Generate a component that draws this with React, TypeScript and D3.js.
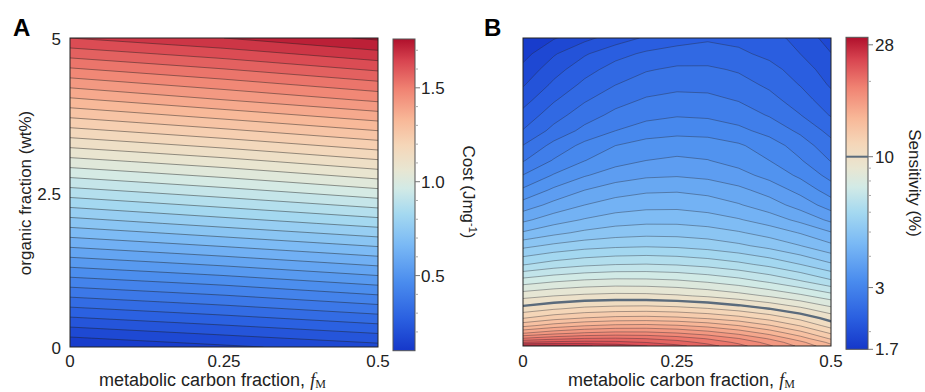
import React from "react";
import * as d3 from "d3";

// ---------------- Panel A data: cost (J mg^-1) ----------------
const costFM = [0, 0.25, 0.5]; // metabolic carbon fraction
const costOrg = [0, 1, 2, 3, 4, 5]; // organic fraction (wt%)
const costGrid = [
  [0.1, 0.14, 0.18],
  [0.41, 0.45, 0.5],
  [0.72, 0.77, 0.82],
  [1.03, 1.08, 1.14],
  [1.34, 1.4, 1.46],
  [1.65, 1.7, 1.76],
];
const costLevels = [
  0.15, 0.2, 0.25, 0.3, 0.35, 0.4, 0.45, 0.5, 0.55, 0.6, 0.65, 0.7, 0.75, 0.8, 0.85, 0.9, 0.95, 1.0,
  1.05, 1.1, 1.15, 1.2, 1.25, 1.3, 1.35, 1.4, 1.45, 1.5, 1.55, 1.6, 1.65, 1.7, 1.75,
];
const costRange = [0.1, 1.76];
const costTicks = [0.5, 1.0, 1.5];
const costMinorTicks = [0.2, 0.3, 0.4, 0.6, 0.7, 0.8, 0.9, 1.1, 1.2, 1.3, 1.4, 1.6, 1.7];
const axisXTicks = [0, 0.25, 0.5];
const axisXLabels = ["0", "0.25", "0.5"];
const orgTicks = [0, 2.5, 5];
const orgLabels = ["0", "2.5", "5"];

// ---------------- Panel B data: log10 sensitivity (%) ----------------
const sensFM = [0, 0.05, 0.1, 0.15, 0.2, 0.25, 0.3, 0.35, 0.4, 0.45, 0.5];
const sensCost = [
  0.1, 0.12, 0.14, 0.17, 0.21, 0.25, 0.3, 0.37, 0.45, 0.54, 0.64, 0.71, 0.78, 0.86, 0.94, 1.02, 1.1,
  1.18, 1.26, 1.345, 1.43, 1.51, 1.59, 1.675, 1.76,
];
const sensLog10Grid = [
  [1.44, 1.434, 1.424, 1.408, 1.386, 1.36, 1.328, 1.292, 1.25, 1.202, 1.15],
  [1.35, 1.36, 1.364, 1.36, 1.348, 1.33, 1.304, 1.272, 1.232, 1.184, 1.13],
  [1.285, 1.305, 1.317, 1.32, 1.314, 1.3, 1.277, 1.246, 1.206, 1.157, 1.1],
  [1.207, 1.232, 1.248, 1.256, 1.255, 1.245, 1.226, 1.199, 1.163, 1.118, 1.065],
  [1.129, 1.155, 1.173, 1.183, 1.185, 1.178, 1.163, 1.14, 1.108, 1.068, 1.02],
  [1.069, 1.092, 1.107, 1.116, 1.118, 1.113, 1.101, 1.083, 1.057, 1.025, 0.986],
  [1.014, 1.032, 1.045, 1.051, 1.053, 1.048, 1.038, 1.022, 1.001, 0.974, 0.941],
  [0.953, 0.965, 0.973, 0.977, 0.976, 0.97, 0.96, 0.945, 0.926, 0.903, 0.875],
  [0.876, 0.891, 0.901, 0.906, 0.905, 0.9, 0.889, 0.874, 0.853, 0.827, 0.796],
  [0.787, 0.805, 0.817, 0.824, 0.826, 0.822, 0.813, 0.799, 0.78, 0.755, 0.725],
  [0.71, 0.728, 0.741, 0.748, 0.751, 0.748, 0.74, 0.727, 0.709, 0.686, 0.658],
  [0.654, 0.676, 0.693, 0.704, 0.709, 0.708, 0.702, 0.689, 0.671, 0.648, 0.618],
  [0.607, 0.634, 0.653, 0.667, 0.673, 0.673, 0.666, 0.653, 0.633, 0.606, 0.572],
  [0.56, 0.591, 0.615, 0.631, 0.639, 0.64, 0.633, 0.618, 0.596, 0.566, 0.528],
  [0.516, 0.552, 0.58, 0.599, 0.609, 0.611, 0.604, 0.589, 0.566, 0.534, 0.493],
  [0.476, 0.513, 0.542, 0.562, 0.574, 0.577, 0.571, 0.557, 0.534, 0.503, 0.463],
  [0.437, 0.478, 0.509, 0.532, 0.545, 0.55, 0.546, 0.532, 0.51, 0.478, 0.438],
  [0.406, 0.451, 0.485, 0.51, 0.526, 0.532, 0.528, 0.515, 0.492, 0.459, 0.417],
  [0.372, 0.416, 0.45, 0.475, 0.491, 0.498, 0.496, 0.484, 0.463, 0.433, 0.394],
  [0.346, 0.39, 0.424, 0.449, 0.465, 0.472, 0.469, 0.458, 0.437, 0.406, 0.367],
  [0.32, 0.365, 0.4, 0.426, 0.443, 0.45, 0.448, 0.437, 0.416, 0.386, 0.347],
  [0.296, 0.342, 0.378, 0.404, 0.422, 0.43, 0.429, 0.418, 0.398, 0.368, 0.33],
  [0.275, 0.321, 0.357, 0.384, 0.402, 0.411, 0.411, 0.401, 0.382, 0.354, 0.316],
  [0.252, 0.296, 0.331, 0.358, 0.376, 0.385, 0.386, 0.377, 0.361, 0.335, 0.301],
  [0.23, 0.262, 0.29, 0.317, 0.34, 0.355, 0.365, 0.36, 0.35, 0.322, 0.285],
];
const sensLog10Levels = [
  0.23, 0.265, 0.3, 0.335, 0.37, 0.405, 0.44, 0.475, 0.51, 0.545, 0.58, 0.615, 0.65, 0.685, 0.72,
  0.755, 0.79, 0.825, 0.86, 0.895, 0.93, 0.965, 1.0, 1.035, 1.07, 1.105, 1.14, 1.175, 1.21, 1.245,
  1.28, 1.315, 1.35, 1.385, 1.42, 1.455,
];
const sensHighlight = [1.0]; // 10 %
const sensRange = [1.7, 30];
const sensTicks = [1.7, 3, 10, 28];
const sensTickLabels = ["1.7", "3", "10", "28"];
const sensMinorTicks = [2, 4, 5, 6, 7, 8, 9, 20];

// ---------------- colour map ----------------
const colorStops = [0, 0.1, 0.22, 0.34, 0.44, 0.52, 0.58, 0.66, 0.74, 0.84, 0.93, 1];
const colorHex = [
  "#1537c9", "#2a5fe0", "#4a8cee", "#7ab9f5", "#a5d9f0", "#d2eae6",
  "#e8e6d2", "#f5d6b8", "#f8b898", "#f08272", "#d84450", "#b0102c",
];

const FONT = "'Liberation Sans', Arial, Helvetica, sans-serif";
const SERIF = "'Liberation Serif', 'Times New Roman', serif";

function contourPaths(
  grid: number[][],
  xs: number[],
  ys: number[],
  levels: number[],
  px: (v: number) => number,
  py: (v: number) => number
) {
  const n = xs.length;
  const m = ys.length;
  const values = grid.flat();
  const gx = d3.scaleLinear().domain(xs.map((_, j) => j + 0.5)).range(xs);
  const gy = d3.scaleLinear().domain(ys.map((_, i) => i + 0.5)).range(ys);
  const proj = d3.geoTransform({
    point(x: number, y: number) {
      // @ts-ignore
      this.stream.point(px(gx(x)), py(gy(y)));
    },
  });
  const path = d3.geoPath(proj);
  const cs = d3.contours().size([n, m]).thresholds(levels)(values);
  return cs.map((c) => ({ value: c.value, d: path(c as any) || "" }));
}

export default function App() {
  const cmap = d3
    .scaleLinear<string>()
    .domain(colorStops)
    .range(colorHex)
    .interpolate(d3.interpolateRgb)
    .clamp(true);

  // ---- Panel A geometry ----
  const A = { x0: 70, x1: 378, y0: 38, y1: 347 };
  const xA = d3.scaleLinear().domain([0, 0.5]).range([A.x0, A.x1]);
  const yA = d3.scaleLinear().domain([0, 5]).range([A.y1, A.y0]);
  const tA = (v: number) => (v - costRange[0]) / (costRange[1] - costRange[0]);
  const bandsA = contourPaths(costGrid, costFM, costOrg, costLevels, xA, yA);
  const colorA = (i: number) => {
    const lo = costLevels[i];
    const hi = i + 1 < costLevels.length ? costLevels[i + 1] : costRange[1];
    return cmap(tA((lo + hi) / 2));
  };
  const baseA = cmap(tA((costRange[0] + costLevels[0]) / 2));

  // ---- Panel B geometry ----
  const B = { x0: 523, x1: 831, y0: 38, y1: 346 };
  const xB = d3.scaleLinear().domain([0, 0.5]).range([B.x0, B.x1]);
  const yB = d3.scaleLinear().domain([sensCost[0], sensCost[sensCost.length - 1]]).range([B.y1, B.y0]);
  const lmin = Math.log10(sensRange[0]);
  const lmax = Math.log10(sensRange[1]);
  const tB = (lv: number) => (lv - lmin) / (lmax - lmin);
  const bandsB = contourPaths(sensLog10Grid, sensFM, sensCost, sensLog10Levels, xB, yB);
  const thickB = contourPaths(sensLog10Grid, sensFM, sensCost, sensHighlight, xB, yB);
  const colorB = (i: number) => {
    const lo = sensLog10Levels[i];
    const hi = i + 1 < sensLog10Levels.length ? sensLog10Levels[i + 1] : lmax;
    return cmap(tB((lo + hi) / 2));
  };
  const baseB = cmap(tB((lmin + sensLog10Levels[0]) / 2));

  // ---- colour bars ----
  const cbA = { x: 393, w: 22, y0: 39, y1: 350.7 };
  const cbAy = d3.scaleLinear().domain(costRange).range([cbA.y1, cbA.y0]);
  const cbB = { x: 846, w: 22, y0: 37.3, y1: 349.3 };
  const cbBy = d3.scaleLog().domain(sensRange).range([cbB.y1, cbB.y0]);

  const tickFont = 17;

  const xLabel = (x: number) => (
    <text x={x} y={386} fontFamily={FONT} fontSize={18} fill="#222">
      metabolic carbon fraction,{" "}
      <tspan fontFamily={SERIF} fontStyle="italic" fontSize={18}>
        f
      </tspan>
      <tspan fontFamily={SERIF} fontSize={12} dy={2}>
        M
      </tspan>
    </text>
  );

  return (
    <svg
      width={925}
      height={392}
      style={{ position: "absolute", left: 0, top: 0, background: "#fff" }}
      fontFamily={FONT}
    >
      <defs>
        <clipPath id="clipA">
          <rect x={A.x0} y={A.y0} width={A.x1 - A.x0} height={A.y1 - A.y0} />
        </clipPath>
        <clipPath id="clipB">
          <rect x={B.x0} y={B.y0} width={B.x1 - B.x0} height={B.y1 - B.y0} />
        </clipPath>
        <linearGradient id="cgrad" x1="0" y1="1" x2="0" y2="0">
          {colorStops.map((s, i) => (
            <stop key={i} offset={s} stopColor={colorHex[i]} />
          ))}
        </linearGradient>
      </defs>

      {/* ---------------- Panel A ---------------- */}
      <text x={13} y={36} fontSize={24} fontWeight="bold" fill="#000">
        A
      </text>
      <g clipPath="url(#clipA)">
        <rect x={A.x0} y={A.y0} width={A.x1 - A.x0} height={A.y1 - A.y0} fill={baseA} />
        {bandsA.map((b, i) => (
          <path key={"fa" + i} d={b.d} fill={colorA(i)} stroke="none" />
        ))}
        {bandsA.map((b, i) => (
          <path key={"la" + i} d={b.d} fill="none" stroke="rgba(30,30,30,0.45)" strokeWidth={1} />
        ))}
      </g>
      <rect x={A.x0} y={A.y0} width={A.x1 - A.x0} height={A.y1 - A.y0} fill="none" stroke="#222" strokeWidth={1} />
      {axisXTicks.map((t, i) => (
        <text key={"xa" + i} x={xA(t)} y={367} textAnchor="middle" fontSize={tickFont} fill="#222">
          {axisXLabels[i]}
        </text>
      ))}
      {orgTicks.map((t, i) => (
        <text key={"ya" + i} x={61} y={yA(t) + 7} textAnchor="end" fontSize={tickFont} fill="#222">
          {orgLabels[i]}
        </text>
      ))}
      {xLabel(99)}
      <text transform={`translate(31,193) rotate(-90)`} textAnchor="middle" fontSize={17} fill="#222">
        organic fraction (wt%)
      </text>

      {/* colour bar A */}
      <rect x={cbA.x} y={cbA.y0} width={cbA.w} height={cbA.y1 - cbA.y0} fill="url(#cgrad)" stroke="#555" strokeWidth={1} />
      {costMinorTicks.map((t, i) => (
        <line key={"ma" + i} x1={cbA.x + cbA.w} x2={cbA.x + cbA.w + 3} y1={cbAy(t)} y2={cbAy(t)} stroke="#aaa" />
      ))}
      {costTicks.map((t, i) => (
        <g key={"ta" + i}>
          <line x1={cbA.x + cbA.w} x2={cbA.x + cbA.w + 5} y1={cbAy(t)} y2={cbAy(t)} stroke="#777" />
          <text x={cbA.x + cbA.w + 6} y={cbAy(t) + 6} fontSize={tickFont} fill="#222">
            {t.toFixed(1)}
          </text>
        </g>
      ))}
      <text transform={`translate(463,192) rotate(90)`} textAnchor="middle" fontSize={17} fill="#222">
        Cost (Jmg
        <tspan dy={-6} fontSize={11}>
          -1
        </tspan>
        <tspan dy={6}>)</tspan>
      </text>

      {/* ---------------- Panel B ---------------- */}
      <text x={484} y={36} fontSize={24} fontWeight="bold" fill="#000">
        B
      </text>
      <g clipPath="url(#clipB)">
        <rect x={B.x0} y={B.y0} width={B.x1 - B.x0} height={B.y1 - B.y0} fill={baseB} />
        {bandsB.map((b, i) => (
          <path key={"fb" + i} d={b.d} fill={colorB(i)} stroke="none" />
        ))}
        {bandsB.map((b, i) => (
          <path key={"lb" + i} d={b.d} fill="none" stroke="rgba(40,40,50,0.38)" strokeWidth={1} />
        ))}
        {thickB.map((b, i) => (
          <path key={"tb" + i} d={b.d} fill="none" stroke="#5b6b7c" strokeWidth={2.4} />
        ))}
      </g>
      <rect x={B.x0} y={B.y0} width={B.x1 - B.x0} height={B.y1 - B.y0} fill="none" stroke="#222" strokeWidth={1} />
      {axisXTicks.map((t, i) => (
        <text key={"xb" + i} x={xB(t)} y={367} textAnchor="middle" fontSize={tickFont} fill="#222">
          {axisXLabels[i]}
        </text>
      ))}
      {xLabel(568)}

      {/* colour bar B */}
      <rect x={cbB.x} y={cbB.y0} width={cbB.w} height={cbB.y1 - cbB.y0} fill="url(#cgrad)" stroke="#555" strokeWidth={1} />
      {sensMinorTicks.map((t, i) => (
        <line key={"mb" + i} x1={cbB.x + cbB.w} x2={cbB.x + cbB.w + 3} y1={cbBy(t)} y2={cbBy(t)} stroke="#aaa" />
      ))}
      <line x1={cbB.x} x2={cbB.x + cbB.w} y1={cbBy(10)} y2={cbBy(10)} stroke="#5b6b7c" strokeWidth={2} />
      {sensTicks.map((t, i) => (
        <g key={"tb" + i}>
          <line x1={cbB.x + cbB.w} x2={cbB.x + cbB.w + 5} y1={cbBy(t)} y2={cbBy(t)} stroke="#777" />
          <text x={cbB.x + cbB.w + 7} y={cbBy(t) + 6} fontSize={tickFont} fill="#222">
            {sensTickLabels[i]}
          </text>
        </g>
      ))}
      <text transform={`translate(909,183) rotate(90)`} textAnchor="middle" fontSize={17} fill="#222">
        Sensitivity (%)
      </text>
    </svg>
  );
}
